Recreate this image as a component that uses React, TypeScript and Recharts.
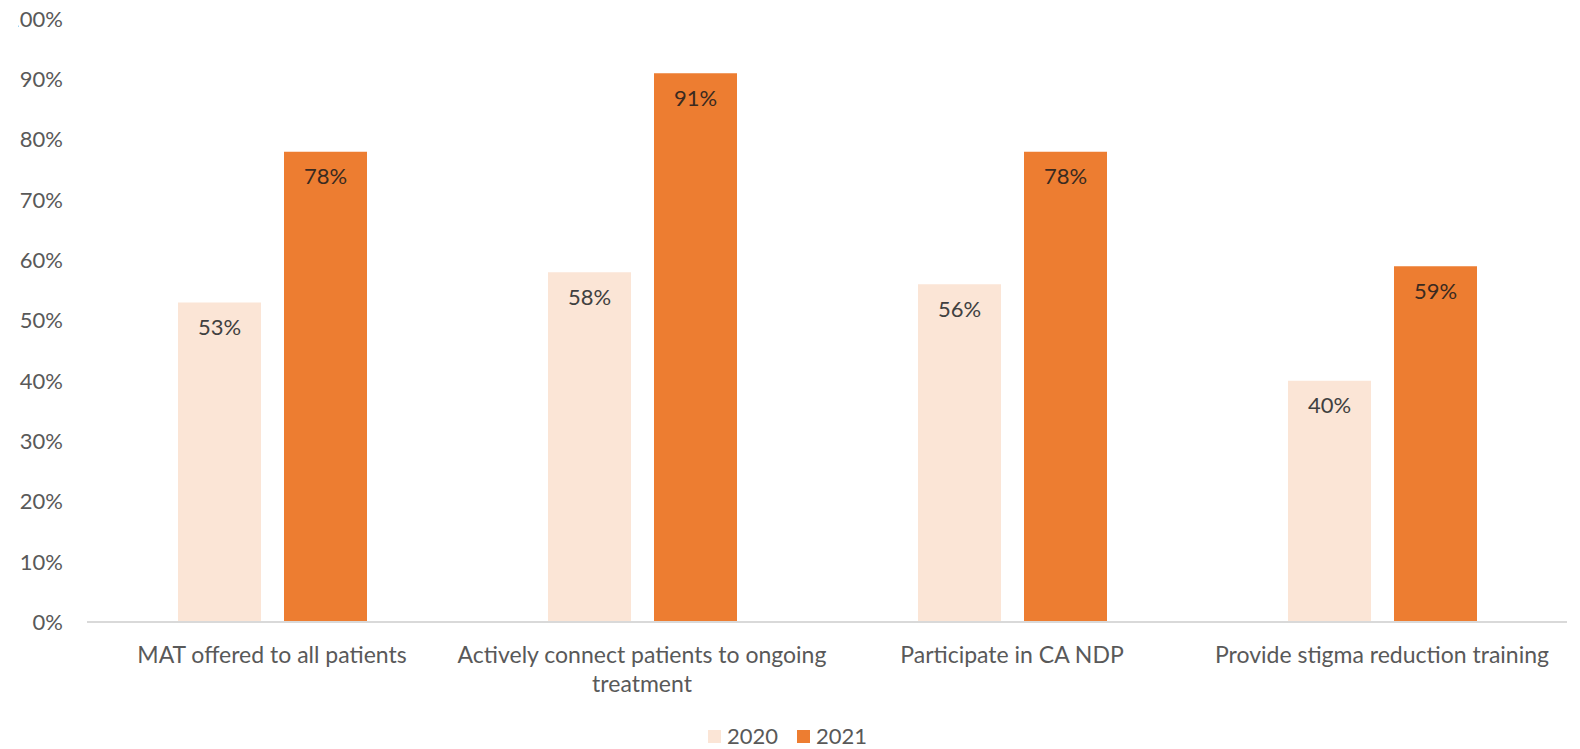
import { Bar, BarChart, LabelList, Legend, XAxis, YAxis } from "recharts"

const categories = [
  "MAT offered to all patients",
  "Actively connect patients to ongoing treatment",
  "Participate in CA NDP",
  "Provide stigma reduction training",
]
const values2020 = [53, 58, 56, 40]
const values2021 = [78, 91, 78, 59]
const yTicks = [0, 10, 20, 30, 40, 50, 60, 70, 80, 90, 100]

const chartData = categories.map((name, i) => ({
  name,
  y2020: values2020[i],
  y2021: values2021[i],
}))

const FONT = "Lato, 'Open Sans', sans-serif"
const AXIS_GREY = "#595959"
const LIGHT = "#FBE5D6"
const ORANGE = "#ED7D31"
const MAX_CHARS = 36

// simple word wrap, the excel label breaks after ~36 chars
function wrapWords(text: string): string[] {
  const lines: string[] = []
  let cur = ""
  for (const w of text.split(" ")) {
    const next = cur ? `${cur} ${w}` : w
    if (next.length > MAX_CHARS && cur) {
      lines.push(cur)
      cur = w
    } else {
      cur = next
    }
  }
  if (cur) lines.push(cur)
  return lines
}

function CategoryTick(props: any) {
  const { x, y, payload } = props
  const lines = wrapWords(String(payload.value))
  return (
    <text x={x} y={y + 33} textAnchor="middle" fontSize={23} fontFamily={FONT} fill={AXIS_GREY}>
      {lines.map((line, i) => (
        <tspan key={i} x={x} dy={i === 0 ? 0 : 29}>
          {line}
        </tspan>
      ))}
    </text>
  )
}

function YearLegend() {
  const items = [
    { label: "2020", color: LIGHT },
    { label: "2021", color: ORANGE },
  ]
  return (
    <div style={{ display: "flex", justifyContent: "center", gap: 19, fontFamily: FONT, fontSize: 22, color: AXIS_GREY, lineHeight: "26px", paddingLeft: 8 }}>
      {items.map((it) => (
        <span key={it.label} style={{ display: "flex", alignItems: "center" }}>
          <span style={{ width: 13, height: 13, background: it.color, marginRight: 6, display: "inline-block" }} />
          {it.label}
        </span>
      ))}
    </div>
  )
}

export default function App() {
  return (
    <div style={{ position: "absolute", left: 0, top: 0, width: 1580, height: 749, background: "#fff", clipPath: "inset(0 0 0 18px)" }}>
      <BarChart
        width={1580}
        height={749}
        data={chartData}
        margin={{ top: 19, right: 13, bottom: 0, left: 0 }}
        barSize={83}
        barGap={23}
      >
        <XAxis
          dataKey="name"
          interval={0}
          height={101}
          tickLine={false}
          axisLine={{ stroke: "#D9D9D9", strokeWidth: 2 }}
          tick={<CategoryTick />}
        />
        <YAxis
          domain={[0, 100]}
          ticks={yTicks}
          width={87}
          axisLine={false}
          tickLine={false}
          tickMargin={18}
          tickFormatter={(v: number) => `${v}%`}
          tick={{ fontSize: 22, fontFamily: FONT, fill: AXIS_GREY }}
        />
        <Legend verticalAlign="bottom" height={26} content={<YearLegend />} />
        <Bar dataKey="y2020" name="2020" fill={LIGHT} isAnimationActive={false}>
          <LabelList
            dataKey="y2020"
            position="insideTop"
            offset={17}
            formatter={(v: any) => `${v}%`}
            style={{ fontSize: 22, fontFamily: FONT, fill: "#404040" }}
          />
        </Bar>
        <Bar dataKey="y2021" name="2021" fill={ORANGE} isAnimationActive={false}>
          <LabelList
            dataKey="y2021"
            position="insideTop"
            offset={17}
            formatter={(v: any) => `${v}%`}
            style={{ fontSize: 22, fontFamily: FONT, fill: "#3a2a20" }}
          />
        </Bar>
      </BarChart>
    </div>
  )
}
